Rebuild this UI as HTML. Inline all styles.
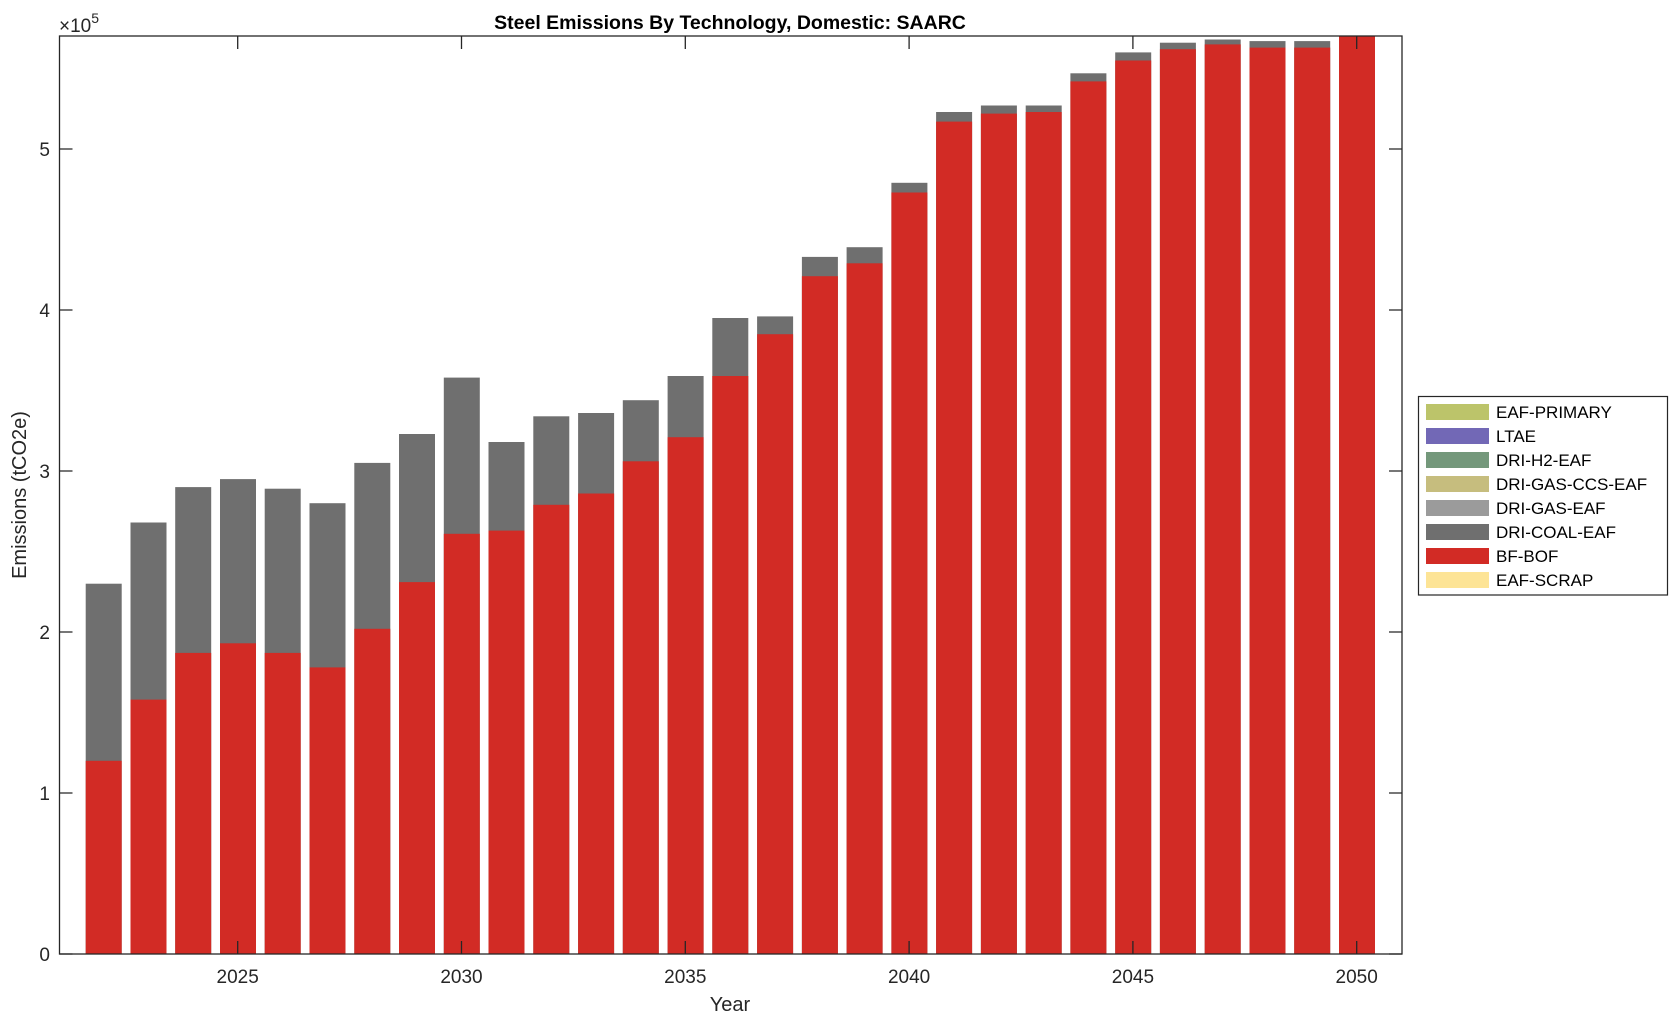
<!DOCTYPE html>
<html><head><meta charset="utf-8"><style>
html,body{margin:0;padding:0;background:#fff;}
svg{display:block;font-family:"Liberation Sans",Arial,sans-serif;}
</style></head><body>
<svg width="1679" height="1022" viewBox="0 0 1679 1022" xmlns="http://www.w3.org/2000/svg">
<rect width="1679" height="1022" fill="#fff"/>
<g fill="#6f6f6f">
<rect x="85.7" y="583.7" width="36" height="370.3"/>
<rect x="130.5" y="522.5" width="36" height="431.5"/>
<rect x="175.2" y="487.1" width="36" height="466.9"/>
<rect x="220.0" y="479.1" width="36" height="474.9"/>
<rect x="264.7" y="488.7" width="36" height="465.3"/>
<rect x="309.5" y="503.2" width="36" height="450.8"/>
<rect x="354.3" y="462.9" width="36" height="491.1"/>
<rect x="399.0" y="434.0" width="36" height="520"/>
<rect x="443.8" y="377.6" width="36" height="576.4"/>
<rect x="488.5" y="442.0" width="36" height="512"/>
<rect x="533.3" y="416.3" width="36" height="537.7"/>
<rect x="578.1" y="413.0" width="36" height="541"/>
<rect x="622.8" y="400.2" width="36" height="553.8"/>
<rect x="667.6" y="376.0" width="36" height="578"/>
<rect x="712.3" y="318.0" width="36" height="636"/>
<rect x="757.1" y="316.4" width="36" height="637.6"/>
<rect x="801.9" y="256.9" width="36" height="697.1"/>
<rect x="846.6" y="247.2" width="36" height="706.8"/>
<rect x="891.4" y="182.8" width="36" height="771.2"/>
<rect x="936.1" y="112.0" width="36" height="842"/>
<rect x="980.9" y="105.5" width="36" height="848.5"/>
<rect x="1025.7" y="105.5" width="36" height="848.5"/>
<rect x="1070.4" y="73.3" width="36" height="880.7"/>
<rect x="1115.2" y="52.4" width="36" height="901.6"/>
<rect x="1159.9" y="42.7" width="36" height="911.3"/>
<rect x="1204.7" y="39.5" width="36" height="914.5"/>
<rect x="1249.5" y="41.1" width="36" height="912.9"/>
<rect x="1294.2" y="41.1" width="36" height="912.9"/>
</g>
<g fill="#d22b25">
<rect x="85.7" y="760.8" width="36" height="193.2"/>
<rect x="130.5" y="699.6" width="36" height="254.4"/>
<rect x="175.2" y="652.9" width="36" height="301.1"/>
<rect x="220.0" y="643.3" width="36" height="310.7"/>
<rect x="264.7" y="652.9" width="36" height="301.1"/>
<rect x="309.5" y="667.4" width="36" height="286.6"/>
<rect x="354.3" y="628.8" width="36" height="325.2"/>
<rect x="399.0" y="582.1" width="36" height="371.9"/>
<rect x="443.8" y="533.8" width="36" height="420.2"/>
<rect x="488.5" y="530.6" width="36" height="423.4"/>
<rect x="533.3" y="504.8" width="36" height="449.2"/>
<rect x="578.1" y="493.5" width="36" height="460.5"/>
<rect x="622.8" y="461.3" width="36" height="492.7"/>
<rect x="667.6" y="437.2" width="36" height="516.8"/>
<rect x="712.3" y="376.0" width="36" height="578"/>
<rect x="757.1" y="334.2" width="36" height="619.8"/>
<rect x="801.9" y="276.2" width="36" height="677.8"/>
<rect x="846.6" y="263.3" width="36" height="690.7"/>
<rect x="891.4" y="192.5" width="36" height="761.5"/>
<rect x="936.1" y="121.6" width="36" height="832.4"/>
<rect x="980.9" y="113.6" width="36" height="840.4"/>
<rect x="1025.7" y="112.0" width="36" height="842"/>
<rect x="1070.4" y="81.4" width="36" height="872.6"/>
<rect x="1115.2" y="60.5" width="36" height="893.5"/>
<rect x="1159.9" y="49.2" width="36" height="904.8"/>
<rect x="1204.7" y="44.4" width="36" height="909.6"/>
<rect x="1249.5" y="47.6" width="36" height="906.4"/>
<rect x="1294.2" y="47.6" width="36" height="906.4"/>
<rect x="1339.0" y="36" width="36" height="918"/>
</g>
<g stroke="#262626" stroke-width="1.3" fill="none">
<rect x="59.5" y="36" width="1342.5" height="918"/>
<path d="M237.7 954v-13M461.5 954v-13M685.3 954v-13M909.1 954v-13M1132.9 954v-13M1356.7 954v-13
M237.7 36v13M461.5 36v13M685.3 36v13M909.1 36v13M1132.9 36v13M1356.7 36v13
M59.5 954h13M59.5 793h13M59.5 632h13M59.5 471h13M59.5 310h13M59.5 149h13
M1402 954h-13M1402 793h-13M1402 632h-13M1402 471h-13M1402 310h-13M1402 149h-13"/>
</g>
<g fill="#262626" font-size="19" text-anchor="middle">
<text x="237.7" y="983">2025</text>
<text x="461.5" y="983">2030</text>
<text x="685.3" y="983">2035</text>
<text x="909.1" y="983">2040</text>
<text x="1132.9" y="983">2045</text>
<text x="1356.7" y="983">2050</text>
</g>
<g fill="#262626" font-size="19" text-anchor="end">
<text x="50" y="961">0</text>
<text x="50" y="800">1</text>
<text x="50" y="639">2</text>
<text x="50" y="478">3</text>
<text x="50" y="317">4</text>
<text x="50" y="156">5</text>
</g>
<text x="59" y="32" font-size="19" fill="#262626">×10<tspan font-size="14" dy="-9">5</tspan></text>
<text x="730" y="29" font-size="19.5" font-weight="bold" text-anchor="middle" fill="#000">Steel Emissions By Technology, Domestic: SAARC</text>
<text x="730" y="1011" font-size="20" text-anchor="middle" fill="#262626">Year</text>
<text transform="translate(26,495) rotate(-90)" font-size="20" text-anchor="middle" fill="#262626">Emissions (tCO2e)</text>
<rect x="1418.5" y="396.5" width="249" height="198.5" fill="#fff" stroke="#262626" stroke-width="1.2"/>
<g>
<rect x="1426" y="404" width="63" height="16" fill="#bcc46a"/>
<rect x="1426" y="428" width="63" height="16" fill="#7268b6"/>
<rect x="1426" y="452" width="63" height="16" fill="#74987b"/>
<rect x="1426" y="476" width="63" height="16" fill="#c6bd7e"/>
<rect x="1426" y="500" width="63" height="16" fill="#9b9b9b"/>
<rect x="1426" y="524" width="63" height="16" fill="#6f6f6f"/>
<rect x="1426" y="548" width="63" height="16" fill="#d22b25"/>
<rect x="1426" y="572" width="63" height="16" fill="#fde496"/>
</g>
<g font-size="17" fill="#000">
<text x="1496" y="418">EAF-PRIMARY</text>
<text x="1496" y="442">LTAE</text>
<text x="1496" y="466">DRI-H2-EAF</text>
<text x="1496" y="490">DRI-GAS-CCS-EAF</text>
<text x="1496" y="514">DRI-GAS-EAF</text>
<text x="1496" y="538">DRI-COAL-EAF</text>
<text x="1496" y="562">BF-BOF</text>
<text x="1496" y="586">EAF-SCRAP</text>
</g>
</svg>
</body></html>
